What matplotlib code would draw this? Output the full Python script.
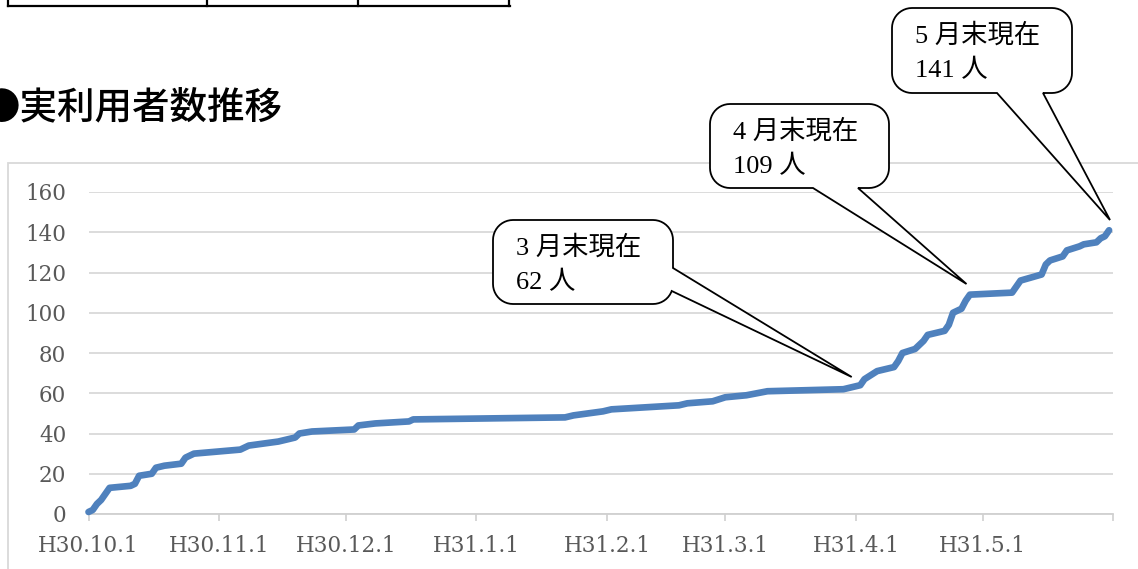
import numpy as np
import pandas as pd
import matplotlib
matplotlib.use("Agg")
import matplotlib.pyplot as plt
from matplotlib.patches import Polygon, Rectangle
from matplotlib.lines import Line2D

# ---------------- data ----------------
dates = ["2018-10-01", "2018-10-02", "2018-10-03", "2018-10-04", "2018-10-05", "2018-10-06",
         "2018-10-11", "2018-10-12", "2018-10-13", "2018-10-16", "2018-10-17", "2018-10-19",
         "2018-10-23", "2018-10-24", "2018-10-26", "2018-11-06", "2018-11-08", "2018-11-15",
         "2018-11-17", "2018-11-19", "2018-11-20", "2018-11-23", "2018-12-03", "2018-12-04",
         "2018-12-08", "2018-12-16", "2018-12-17", "2019-01-22", "2019-01-24", "2019-01-31",
         "2019-02-02", "2019-02-18", "2019-02-20", "2019-02-26", "2019-03-01", "2019-03-06",
         "2019-03-11", "2019-03-29", "2019-04-02", "2019-04-03", "2019-04-06", "2019-04-10",
         "2019-04-11", "2019-04-12", "2019-04-15", "2019-04-16", "2019-04-17", "2019-04-18",
         "2019-04-22", "2019-04-23", "2019-04-24", "2019-04-26", "2019-04-27", "2019-04-28",
         "2019-05-08", "2019-05-09", "2019-05-10", "2019-05-15", "2019-05-16", "2019-05-17",
         "2019-05-20", "2019-05-21", "2019-05-24", "2019-05-25", "2019-05-28", "2019-05-29",
         "2019-05-30", "2019-05-31"]
users = [1, 2, 5, 7, 10, 13,
         14, 15, 19, 20, 23, 24,
         25, 28, 30, 32, 34, 36,
         37, 38, 40, 41, 42, 44,
         45, 46, 47, 48, 49, 51,
         52, 54, 55, 56, 58, 59,
         61, 62, 64, 67, 71, 73,
         76, 80, 82, 84, 86, 89,
         91, 94, 100, 102, 106, 109,
         110, 113, 116, 119, 124, 126,
         128, 131, 133, 134, 135, 137,
         138, 141]

tick_dates = ["2018-10-01", "2018-11-01", "2018-12-01", "2019-01-01", "2019-02-01",
              "2019-03-01", "2019-04-01", "2019-05-01", "2019-06-01"]
tick_labels = ["H30.10.1", "H30.11.1", "H30.12.1", "H31.1.1", "H31.2.1",
               "H31.3.1", "H31.4.1", "H31.5.1", ""]
y_ticks = [0, 20, 40, 60, 80, 100, 120, 140, 160]

title = "●実利用者数推移"
callout_lines = [("3 月末現在", "62 人"), ("4 月末現在", "109 人"), ("5 月末現在", "141 人")]

# ---------------- figure ----------------
W, H = 1138, 569
fig = plt.figure(figsize=(W / 100, H / 100), dpi=100)
fig.patch.set_facecolor("white")


def fx(x):
    return x / W


def fy(y):
    return 1 - y / H


# chart outer frame (cut by page edges)
fig.add_artist(Rectangle((fx(8), fy(600)), fx(1200) - fx(8), fy(163) - fy(600),
                         transform=fig.transFigure, fill=False,
                         edgecolor="#d9d9d9", lw=1.3, zorder=0))

# table fragment at top
for (x0, y0, x1, y1) in [(8, 6, 510, 6), (8, -2, 8, 6), (207, -2, 207, 6),
                         (358, -2, 358, 6), (509, -2, 509, 6)]:
    fig.add_artist(Line2D([fx(x0), fx(x1)], [fy(y0), fy(y1)], transform=fig.transFigure,
                          color="black", lw=1.6))

fig.text(fx(-18), fy(107), title, family=["Noto Sans CJK JP"], fontsize=27,
         weight="medium", ha="left", va="center", color="black")

# axes
ax_l, ax_r, ax_t, ax_b = 88.5, 1113.3, 192, 514
ax = fig.add_axes([fx(ax_l), fy(ax_b), fx(ax_r) - fx(ax_l), fy(ax_t) - fy(ax_b)])
ax.set_facecolor("none")

x = pd.to_datetime(dates)
ax.plot(x, users, color="#4f81bd", lw=4.8, solid_capstyle="round",
        solid_joinstyle="round", clip_on=False, zorder=3)

ax.set_xlim(pd.Timestamp("2018-10-01"), pd.Timestamp("2019-06-01"))
ax.set_ylim(0, 160)
ax.set_yticks(y_ticks)
ax.set_xticks(pd.to_datetime(tick_dates))
ax.set_xticklabels(tick_labels)
ax.yaxis.grid(True, color="#d9d9d9", lw=1.3)
ax.set_axisbelow(True)
for s in ["top", "right", "left"]:
    ax.spines[s].set_visible(False)
ax.spines["bottom"].set_color("#d0d0d0")
ax.spines["bottom"].set_linewidth(1.3)
ax.tick_params(axis="y", length=0, pad=16, labelsize=15.5, labelcolor="#595959")
ax.tick_params(axis="x", length=5, width=1.2, color="#d0d0d0", pad=10,
               labelsize=15.5, labelcolor="#595959")
for lab in ax.get_xticklabels() + ax.get_yticklabels():
    lab.set_family("DejaVu Serif")


# ---------------- callouts ----------------
def rounded_rect_points(x0, y0, x1, y1, r, n=12):
    pts = []

    def arc(cx, cy, a0, a1):
        for t in np.linspace(a0, a1, n):
            pts.append((cx + r * np.cos(t), cy + r * np.sin(t)))
    arc(x1 - r, y0 + r, -np.pi / 2, 0)          # top-right
    arc(x1 - r, y1 - r, 0, np.pi / 2)           # bottom-right
    arc(x0 + r, y1 - r, np.pi / 2, np.pi)       # bottom-left
    arc(x0 + r, y0 + r, np.pi, 1.5 * np.pi)     # top-left
    return pts


def densify(pts, step=1.0):
    out = []
    m = len(pts)
    for i in range(m):
        a = np.array(pts[i]); b = np.array(pts[(i + 1) % m])
        d = np.linalg.norm(b - a)
        k = max(1, int(d / step))
        for t in np.linspace(0, 1, k, endpoint=False):
            out.append(tuple(a + (b - a) * t))
    return out


def callout(box, b1, b2, tip, r=20):
    x0, y0, x1, y1 = box
    pts = densify(rounded_rect_points(x0, y0, x1, y1, r))
    arr = np.array(pts)
    i1 = int(np.argmin(np.hypot(arr[:, 0] - b1[0], arr[:, 1] - b1[1])))
    i2 = int(np.argmin(np.hypot(arr[:, 0] - b2[0], arr[:, 1] - b2[1])))
    if i1 > i2:
        i1, i2 = i2, i1
    new = pts[:i1 + 1] + [tip] + pts[i2:]
    poly = Polygon([(fx(px), fy(py)) for px, py in new], closed=True,
                   transform=fig.transFigure, facecolor="white",
                   edgecolor="black", lw=1.3, joinstyle="miter", zorder=5)
    fig.add_artist(poly)


boxes = [(493, 220, 673, 304), (710, 104, 889, 188), (892, 8, 1072, 93)]
bases = [((673, 268), (670, 291)), ((858, 188), (813, 188)), ((1043, 93), (997, 93))]
tips = [(851.7, 377), (966.5, 284), (1110, 220)]

for box, (b1, b2), tip, (l1, l2) in zip(boxes, bases, tips, callout_lines):
    callout(box, b1, b2, tip)
    tx = box[0] + 23
    fig.text(fx(tx), fy(box[1] + 27), l1, family=["Liberation Serif", "Noto Sans CJK JP"],
             fontsize=19, ha="left", va="center", color="black", zorder=6)
    fig.text(fx(tx), fy(box[1] + 63), l2, family=["Liberation Serif", "Noto Sans CJK JP"],
             fontsize=19, ha="left", va="center", color="black", zorder=6)

fig.savefig("out.png", dpi=100, facecolor="white")
